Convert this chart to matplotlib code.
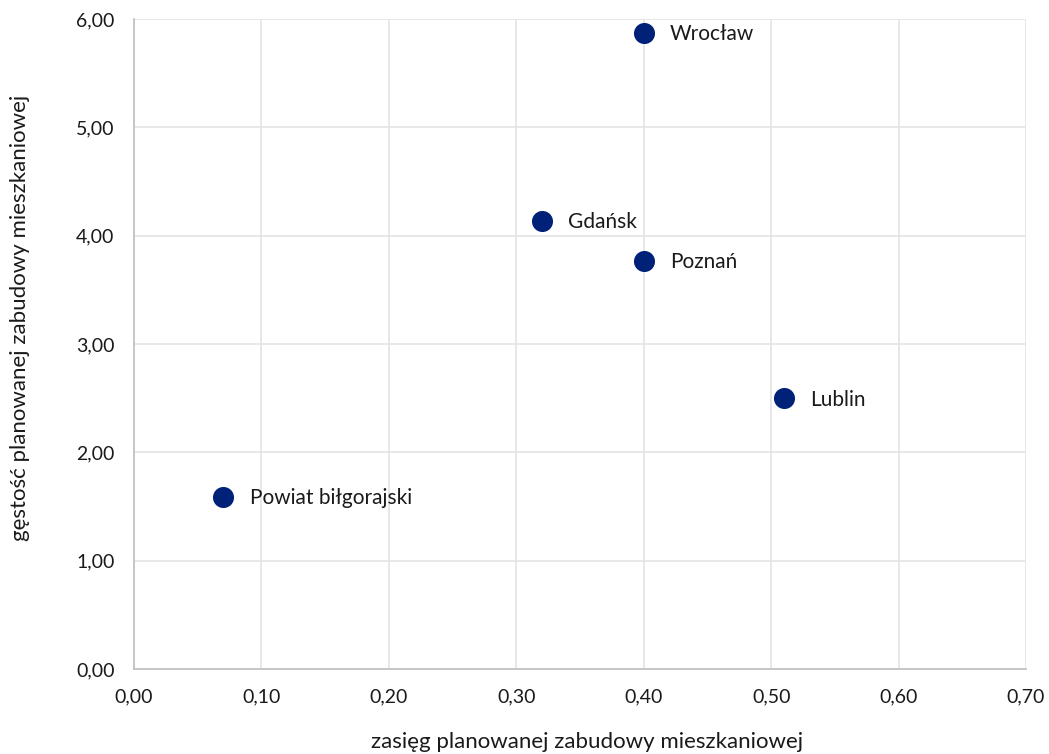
import matplotlib
matplotlib.use("Agg")
import matplotlib.pyplot as plt
from matplotlib.ticker import FuncFormatter, MultipleLocator

plt.rcParams['font.family'] = ['Lato', 'DejaVu Sans']

places = ["Wrocław", "Gdańsk", "Poznań", "Lublin", "Powiat biłgorajski"]
zasieg = [0.40, 0.32, 0.40, 0.51, 0.07]
gestosc = [5.87, 4.14, 3.77, 2.50, 1.59]

x_label = "zasięg planowanej zabudowy mieszkaniowej"
y_label = "gęstość planowanej zabudowy mieszkaniowej"

fig = plt.figure(figsize=(10.49, 7.54), dpi=100)
ax = fig.add_axes([134 / 1049, 1 - 669 / 754, (1026 - 134) / 1049, (669 - 19) / 754])

ax.scatter(zasieg, gestosc, s=230, color="#002178", zorder=3, linewidths=0)
for name, x, y in zip(places, zasieg, gestosc):
    ax.annotate(name, (x, y), xytext=(19, -1), textcoords="offset points",
                va="center", ha="left", fontsize=15, color="#1a1a1a")

ax.set_xlim(0, 0.70)
ax.set_ylim(0, 6.0)
ax.xaxis.set_major_locator(MultipleLocator(0.10))
ax.yaxis.set_major_locator(MultipleLocator(1.0))
comma = FuncFormatter(lambda v, _: f"{v:.2f}".replace(".", ","))
ax.xaxis.set_major_formatter(comma)
ax.yaxis.set_major_formatter(comma)

ax.grid(True, color="#E4E4E4", linewidth=1.2, zorder=0)
ax.set_axisbelow(True)
for side in ("top", "right"):
    ax.spines[side].set_visible(False)
for side in ("left", "bottom"):
    ax.spines[side].set_color("#BFBFBF")
    ax.spines[side].set_linewidth(1.2)
ax.tick_params(length=0, labelsize=14, colors="#1a1a1a")
ax.tick_params(axis="x", pad=14)
ax.tick_params(axis="y", pad=14)

fig.text(587 / 1049, 1 - 742 / 754, x_label, ha="center", va="center",
         fontsize=16, color="#1a1a1a")
fig.text(20 / 1049, 1 - 318 / 754, y_label, ha="center", va="center", rotation=90,
         fontsize=16, color="#1a1a1a")

fig.savefig("out.png", dpi=100, facecolor="white")
